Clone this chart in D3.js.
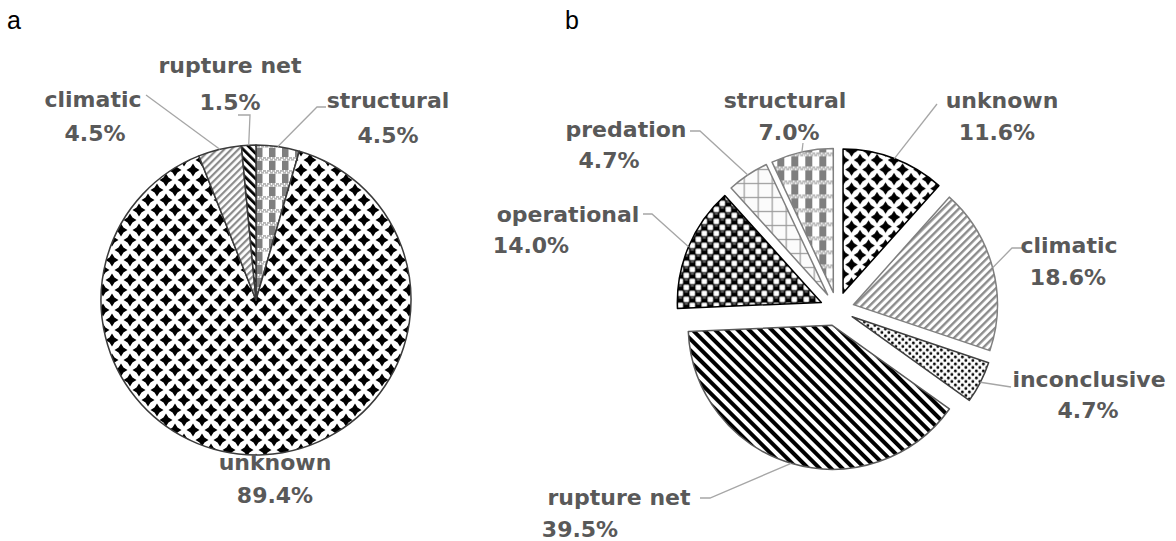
<!DOCTYPE html>
<html><head><meta charset="utf-8">
<script src="https://cdn.jsdelivr.net/npm/d3@7"></script>
<style>body{margin:0;background:#fff} svg{display:block}</style>
</head><body>
<svg id="chart" width="1176" height="541"></svg>
<script>
// ---- data ----
const catsA = ["structural", "unknown", "climatic", "rupture net"];
const valsA = [4.5, 89.4, 4.5, 1.5];
const pctA  = ["4.5%", "89.4%", "4.5%", "1.5%"];

const catsB = ["unknown", "climatic", "inconclusive", "rupture net", "operational", "predation", "structural"];
const valsB = [11.6, 18.6, 4.7, 39.5, 14.0, 4.7, 7.0];
const pctB  = ["11.6%", "18.6%", "4.7%", "39.5%", "14.0%", "4.7%", "7.0%"];

const panelLabels = ["a", "b"];

// ---- layout ----
const svg = d3.select("#chart");
const defs = svg.append("defs");

function pat(id, w, h, transform) {
  const p = defs.append("pattern").attr("id", id).attr("patternUnits", "userSpaceOnUse")
    .attr("width", w).attr("height", h);
  if (transform) p.attr("patternTransform", transform);
  return p;
}
function diamonds(id, w, h, s) {
  const p = pat(id, w, h);
  p.append("rect").attr("width", w).attr("height", h).attr("fill", "#fff");
  const k = s * 0.38;
  const dpath = `M0,${-s} L${k},${-k} L${s},0 L${k},${k} L0,${s} L${-k},${k} L${-s},0 L${-k},${-k}Z`;
  [[0,0],[w,0],[0,h],[w,h],[w/2,h/2]].forEach(([x,y]) =>
    p.append("path").attr("d", dpath).attr("transform", `translate(${x},${y})`).attr("fill", "#000"));
}
function stripes(id, period, sw, color, angle) {
  const p = pat(id, period, period, `rotate(${angle})`);
  p.append("rect").attr("width", period).attr("height", period).attr("fill", "#fff");
  p.append("rect").attr("width", sw).attr("height", period).attr("fill", color);
}
function structural(id, t) {
  const p = pat(id, t, t);
  p.append("rect").attr("width", t).attr("height", t).attr("fill", "#fff");
  const band = t * 0.28;
  p.append("rect").attr("x", 0).attr("y", band).attr("width", t / 2).attr("height", t - band).attr("fill", "#7f7f7f");
  p.append("rect").attr("width", t).attr("height", band).attr("fill", "#b8b8b8");
  for (let x = 0; x < t; x += 2) {
    p.append("rect").attr("x", x).attr("y", (x / 2) % 2 ? 0 : band / 2).attr("width", 1).attr("height", band / 2).attr("fill", "#fff");
  }
}
function grid(id, t) {
  const p = pat(id, t, t);
  p.append("rect").attr("width", t).attr("height", t).attr("fill", "#fbfbfb");
  p.append("rect").attr("width", t).attr("height", 1.2).attr("fill", "#9a9a9a");
  p.append("rect").attr("width", 1.2).attr("height", t).attr("fill", "#9a9a9a");
}
function spheres(id, t) {
  const p = pat(id, t, t);
  p.append("rect").attr("width", t).attr("height", t).attr("fill", "#000");
  const h = t / 2, s = t * 0.46;
  [[h/2, h/2], [h + h/2, h + h/2]].forEach(([cx, cy]) =>
    p.append("rect").attr("x", cx - s/2).attr("y", cy - s/2).attr("width", s).attr("height", s).attr("rx", 1).attr("fill", "#fff"));
  [[h + h/2, h/2], [h/2, h + h/2]].forEach(([cx, cy]) =>
    p.append("rect").attr("x", cx - 1.6).attr("y", cy - 2.2).attr("width", 3.2).attr("height", 1.3).attr("fill", "#8a8a8a"));
}
function dots(id, t) {
  const p = pat(id, t, t);
  p.append("rect").attr("width", t).attr("height", t).attr("fill", "#fff");
  [[t/4, t/4], [3*t/4, 3*t/4]].forEach(([x, y]) =>
    p.append("circle").attr("cx", x).attr("cy", y).attr("r", 1.4).attr("fill", "#000"));
}

// panel a patterns
diamonds("a-unknown", 18, 20, 6.5);
stripes("a-climatic", 5, 2.2, "#8c8c8c", 45);
stripes("a-rupture", 6, 2.8, "#000", -45);
structural("a-structural", 13);
// panel b patterns
diamonds("b-unknown", 17, 19, 6.3);
stripes("b-climatic", 5.5, 2.4, "#8c8c8c", 45);
dots("b-inconclusive", 7);
stripes("b-rupture", 8, 4, "#000", -45);
spheres("b-operational", 12);
grid("b-predation", 14);
structural("b-structural", 14);

const fillA = {"structural": "url(#a-structural)", "unknown": "url(#a-unknown)", "climatic": "url(#a-climatic)", "rupture net": "url(#a-rupture)"};
const fillB = {"unknown": "url(#b-unknown)", "climatic": "url(#b-climatic)", "inconclusive": "url(#b-inconclusive)",
  "rupture net": "url(#b-rupture)", "operational": "url(#b-operational)", "predation": "url(#b-predation)", "structural": "url(#b-structural)"};
const strokeB = {"unknown": "#000", "climatic": "#808080", "inconclusive": "#404040", "rupture net": "#595959",
  "operational": "#000", "predation": "#808080", "structural": "#808080"};

// label layout: [x, y] for the two text lines; lead = leader start points
const labA = {
  "climatic":    {l1: [93, 107], l2: [95, 141], lead: [[146, 95]]},
  "rupture net": {l1: [230, 73], l2: [230, 110], lead: [[238, 115], [250, 115]]},
  "structural":  {l1: [388, 108], l2: [388, 143], lead: [[326, 107], [317, 107]]},
  "unknown":     {l1: [275, 470], l2: [275, 503], lead: []}
};
const labB = {
  "unknown":      {l1: [1002, 108], l2: [997, 140], lead: [[937, 104]]},
  "climatic":     {l1: [1069, 253], l2: [1068, 285], lead: [[1022, 248], [1012, 248]]},
  "inconclusive": {l1: [1089, 387], l2: [1088, 418], lead: [[1011, 387]]},
  "rupture net":  {l1: [619, 505], l2: [580, 537], lead: [[700, 498], [710, 498]]},
  "operational":  {l1: [568, 222], l2: [531, 253], lead: [[643, 214], [652, 214]]},
  "predation":    {l1: [626, 137], l2: [609, 168], lead: [[690, 131], [700, 131]]},
  "structural":   {l1: [785, 108], l2: [789, 140], lead: [[803, 143]]}
};

function drawPie(cfg) {
  const data = cfg.cats.map((c, i) => ({c, v: cfg.vals[i], p: cfg.pct[i]}));
  const arcs = d3.pie().sort(null).value(d => d.v).startAngle(0).endAngle(2 * Math.PI)(data);
  const arc = d3.arc().innerRadius(0).outerRadius(cfg.r);
  const g = svg.append("g").attr("transform", `translate(${cfg.cx},${cfg.cy})`);
  arcs.forEach(a => {
    const mid = (a.startAngle + a.endAngle) / 2;
    const ox = cfg.explode * Math.sin(mid), oy = -cfg.explode * Math.cos(mid);
    g.append("path").attr("d", arc(a)).attr("transform", `translate(${ox},${oy})`)
      .attr("fill", cfg.fill[a.data.c]).attr("stroke", cfg.stroke ? cfg.stroke[a.data.c] : "#3a3a3a")
      .attr("stroke-width", 1.5).attr("stroke-linejoin", "round");
  });
  arcs.forEach(a => {
    const L = cfg.labels[a.data.c];
    const mid = (a.startAngle + a.endAngle) / 2;
    const rr = cfg.r + cfg.explode;
    const end = [cfg.cx + rr * Math.sin(mid), cfg.cy - rr * Math.cos(mid)];
    if (L.lead.length) {
      svg.append("polyline").attr("points", [...L.lead, end].map(p => p.join(",")).join(" "))
        .attr("fill", "none").attr("stroke", "#a6a6a6").attr("stroke-width", 1.3);
    }
    svg.append("text").attr("x", L.l1[0]).attr("y", L.l1[1]).text(a.data.c).attr("class", "lab");
    svg.append("text").attr("x", L.l2[0]).attr("y", L.l2[1]).text(a.data.p).attr("class", "lab");
  });
}

drawPie({cats: catsA, vals: valsA, pct: pctA, cx: 256, cy: 300, r: 155, explode: 0, fill: fillA, labels: labA});
drawPie({cats: catsB, vals: valsB, pct: pctB, cx: 837, cy: 309, r: 144, explode: 17, fill: fillB, stroke: strokeB, labels: labB});

svg.selectAll("text.lab").attr("text-anchor", "middle")
  .attr("font-family", "DejaVu Sans, sans-serif").attr("font-weight", "bold")
  .attr("font-size", 22).attr("fill", "#595959");

svg.selectAll("text.panel").data(panelLabels).enter().append("text")
  .attr("class", "panel").attr("x", (d, i) => i === 0 ? 7 : 565).attr("y", 29)
  .attr("font-family", "Liberation Sans, Arial, sans-serif").attr("font-size", 25).attr("fill", "#000")
  .text(d => d);
</script>
</body></html>
